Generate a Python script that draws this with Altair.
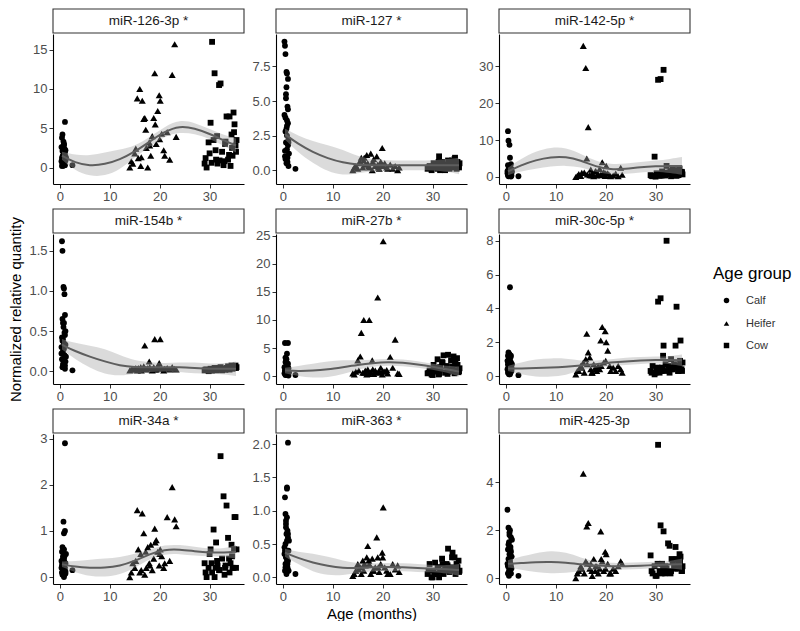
import altair as alt
import pandas as pd

# ---- ages (months) of the sampled animals, shared by all miRNAs ----
calf_age = [0.3, 0.4, 0.4, 0.5, 0.5, 0.5, 0.6, 0.6, 0.7, 0.7, 0.7, 0.8, 0.8, 0.8,
            0.9, 0.9, 1.0, 1.0, 1.0, 1.1, 1.1, 1.2, 0.6, 2.5,
            0.3, 0.5, 0.6, 0.7, 0.8, 0.9, 1.0, 1.1, 0.4, 0.8]
heifer_age = [14.0, 14.6, 15.0, 15.5, 15.7, 16.0, 16.2, 16.5, 16.8, 17.0, 17.3, 17.6,
              17.9, 18.2, 18.5, 18.8, 19.0, 19.3, 19.6, 19.9, 20.1, 20.4, 20.8, 21.5,
              22.0, 22.5, 23.0, 23.3,
              14.3, 15.2, 16.3, 17.2, 18.0, 19.1, 20.0, 21.0]
cow_age = [29.0, 29.4, 29.8, 30.2, 30.5, 30.8, 31.0, 31.3, 31.6, 31.9, 32.2, 32.5,
           32.8, 33.1, 33.4, 33.7, 34.0, 34.2, 34.4, 34.6, 34.8, 35.0, 35.2, 35.4,
           30.0, 31.5, 33.0, 34.5,
           29.2, 30.4, 31.2, 32.0, 33.2, 33.9, 34.9, 35.3]
curve_age = [0.4, 3, 6, 9, 12, 15, 18, 21, 24, 27, 30, 33, 35.3]

# ---- miR-126-3p ----
m126_calf = [0.8, 3.8, 1.2, 4.2, 0.5, 2.1, 1.5, 0.2, 2.8, 1.0, 0.4, 1.8, 3.0, 0.7, 2.4, 1.1, 5.8, 0.3, 1.6, 2.2, 0.9, 1.3, 0.6, 0.3,
             2.6, 1.4, 0.4, 3.3, 1.9, 0.7, 2.0, 1.0, 0.2, 2.9]
m126_heifer = [0.0, 0.5, 1.8, 8.8, 1.2, 10.0, 0.2, 8.5, 6.2, 6.3, 2.5, 0.0, 3.2, 1.5, 4.0, 6.3, 12.0, 3.0, 7.2, 9.2, 8.5, 4.3, 2.2, 4.5, 1.0, 11.8, 15.7, 3.9,
               0.8, 2.4, 1.3, 4.8, 2.8, 5.5, 3.6, 1.5]
m126_cow = [0.5, 0.0, 3.2, 5.7, 16.0, 3.5, 12.0, 1.0, 0.5, 10.5, 10.7, 2.0, 0.3, 3.0, 6.5, 1.0, 6.5, 0.2, 4.2, 1.5, 7.0, 5.5, 2.8, 3.5, 1.8, 4.0, 0.8, 2.5,
            1.2, 0.6, 2.2, 0.9, 3.3, 1.6, 4.5, 2.0]
m126_fit = [1.5, 0.6, 0.2, 0.4, 1.0, 2.0, 3.3, 4.6, 5.3, 5.0, 4.3, 3.4, 2.8]
m126_lo = [1.0, -0.4, -1.1, -1.1, -0.3, 1.3, 2.7, 4.0, 4.5, 4.3, 3.7, 2.7, 1.9]
m126_hi = [2.0, 1.6, 1.5, 1.9, 2.3, 2.7, 3.9, 5.2, 6.1, 5.7, 4.9, 4.1, 3.7]

# ---- miR-127 ----
m127_calf = [9.3, 1.0, 9.0, 3.8, 0.8, 8.4, 2.0, 5.2, 0.5, 7.1, 3.0, 1.5, 7.0, 2.5, 4.6, 0.9, 6.6, 1.8, 3.4, 0.3, 2.2, 1.2, 5.5, 0.1,
             4.0, 2.8, 1.0, 6.0, 3.2, 0.6, 4.4, 2.0, 1.4, 3.6]
m127_heifer = [0.0, 0.3, 0.1, 0.6, 0.9, 0.2, 0.7, 0.4, 1.1, 0.5, 0.2, 1.2, 0.0, 0.8, 0.3, 1.0, 0.4, 0.1, 0.6, 1.6, 0.3, 0.5, 0.2, 0.4, 0.1, 0.3, 0.0, 0.2,
               0.2, 0.5, 0.9, 0.3, 0.6, 0.2, 0.4, 0.1]
m127_cow = [0.1, 0.3, 0.0, 0.5, 0.2, 0.4, 0.1, 1.0, 0.3, 0.6, 0.2, 0.0, 0.4, 0.7, 0.1, 0.3, 0.5, 0.2, 0.8, 0.4, 0.1, 0.6, 0.3, 0.5, 0.2, 0.0, 0.4, 0.9,
            0.2, 0.4, 0.6, 0.1, 0.3, 0.7, 0.5, 0.2]
m127_fit = [2.6, 1.9, 1.3, 0.85, 0.55, 0.4, 0.35, 0.35, 0.35, 0.35, 0.35, 0.35, 0.35]
m127_lo = [2.2, 1.3, 0.5, -0.1, -0.4, -0.2, -0.1, 0.0, 0.0, 0.0, 0.0, -0.1, -0.3]
m127_hi = [3.0, 2.5, 2.1, 1.8, 1.5, 1.0, 0.8, 0.7, 0.7, 0.7, 0.7, 0.8, 0.9]

# ---- miR-142-5p ----
m142_calf = [1.0, 12.4, 0.5, 2.0, 9.8, 0.2, 1.5, 3.0, 0.8, 8.7, 1.2, 0.3, 2.5, 5.2, 0.6, 1.8, 3.5, 0.1, 1.0, 2.2, 0.4, 1.4, 0.7, 0.2,
             1.6, 0.9, 2.8, 0.4, 1.2, 2.0, 0.6, 1.5, 3.2, 0.3]
m142_heifer = [0.0, 0.8, 0.3, 35.5, 1.2, 29.5, 5.0, 13.5, 0.5, 2.0, 1.0, 0.2, 1.5, 0.4, 0.8, 2.2, 0.6, 4.0, 1.3, 0.3, 3.0, 1.0, 0.5, 0.4, 0.9, 0.2, 2.5, 0.6,
               0.3, 1.1, 0.7, 0.4, 1.6, 0.5, 1.0, 0.2]
m142_cow = [0.5, 0.2, 5.5, 1.0, 26.3, 0.3, 26.5, 1.5, 29.0, 0.4, 3.0, 0.8, 1.2, 0.2, 2.0, 0.6, 1.1, 0.3, 1.8, 0.5, 2.3, 0.9, 1.4, 0.7, 0.1, 0.5, 1.6, 1.0,
            0.3, 0.8, 0.4, 1.2, 0.6, 1.8, 0.9, 1.3]
m142_fit = [1.5, 3.2, 4.6, 5.4, 5.5, 4.5, 2.8, 2.0, 2.2, 2.7, 2.9, 3.0, 3.0]
m142_lo = [0.5, 1.5, 2.2, 2.9, 3.1, 2.7, 1.3, 0.6, 0.8, 1.3, 1.4, 1.1, 0.6]
m142_hi = [2.5, 4.9, 7.0, 8.0, 8.0, 6.3, 4.3, 3.4, 3.6, 4.1, 4.4, 4.9, 5.4]

# ---- miR-154b ----
m154_calf = [0.30, 1.62, 0.15, 0.65, 1.50, 0.05, 0.40, 0.25, 1.05, 0.55, 0.10, 1.03, 0.35, 0.60, 0.20, 0.96, 0.70, 0.03, 0.45, 0.50, 0.12, 0.18, 0.08, 0.01,
             0.22, 0.38, 0.60, 0.14, 0.28, 0.48, 0.07, 0.33, 0.42, 0.20]
m154_heifer = [0.01, 0.02, 0.03, 0.01, 0.04, 0.02, 0.05, 0.03, 0.06, 0.32, 0.02, 0.04, 0.12, 0.03, 0.01, 0.05, 0.40, 0.02, 0.06, 0.10, 0.40, 0.03, 0.01, 0.04, 0.02, 0.05, 0.03, 0.02,
               0.02, 0.04, 0.01, 0.03, 0.05, 0.02, 0.04, 0.03]
m154_cow = [0.01, 0.02, 0.0, 0.03, 0.01, 0.02, 0.04, 0.01, 0.03, 0.02, 0.05, 0.01, 0.03, 0.02, 0.04, 0.06, 0.02, 0.05, 0.07, 0.03, 0.06, 0.04, 0.07, 0.05, 0.01, 0.02, 0.03, 0.06,
            0.02, 0.01, 0.03, 0.04, 0.02, 0.05, 0.06, 0.04]
m154_fit = [0.33, 0.25, 0.18, 0.12, 0.07, 0.05, 0.05, 0.05, 0.05, 0.04, 0.03, 0.03, 0.03]
m154_lo = [0.27, 0.15, 0.04, -0.04, -0.06, -0.03, -0.01, 0.0, -0.01, -0.03, -0.03, -0.04, -0.06]
m154_hi = [0.40, 0.35, 0.32, 0.28, 0.20, 0.13, 0.11, 0.10, 0.11, 0.11, 0.09, 0.10, 0.12]

# ---- miR-27b ----
m27_calf = [0.5, 5.9, 1.0, 3.3, 0.2, 2.5, 1.5, 0.8, 3.0, 0.3, 2.0, 1.2, 0.6, 4.0, 1.8, 0.4, 5.9, 0.9, 2.2, 0.1, 1.4, 0.7, 1.1, 0.2,
            1.6, 0.3, 2.6, 0.5, 1.0, 0.2, 1.3, 0.6, 0.9, 0.4]
m27_heifer = [0.5, 0.8, 2.8, 3.5, 7.7, 0.6, 10.0, 1.0, 0.3, 1.2, 10.0, 0.7, 2.8, 0.4, 1.0, 0.6, 14.0, 0.9, 1.5, 0.3, 24.0, 0.8, 1.1, 3.4, 1.5, 6.5, 0.5, 0.4,
              0.3, 1.0, 0.6, 0.4, 1.2, 0.7, 0.9, 0.5]
m27_cow = [0.5, 1.0, 0.3, 2.0, 0.8, 1.5, 3.0, 0.4, 1.2, 2.5, 3.7, 0.6, 1.8, 3.8, 0.9, 2.8, 1.3, 3.5, 0.5, 2.2, 1.0, 2.0, 0.7, 1.4, 0.2, 1.6, 0.4, 2.6,
           0.6, 1.1, 0.3, 2.4, 0.8, 1.7, 3.2, 0.9]
m27_fit = [1.0, 0.9, 0.95, 1.2, 1.6, 2.0, 2.3, 2.5, 2.4, 2.1, 1.7, 1.2, 0.8]
m27_lo = [0.5, 0.0, -0.3, -0.2, 0.3, 1.2, 1.7, 1.9, 1.8, 1.5, 1.2, 0.6, -0.1]
m27_hi = [1.5, 1.8, 2.2, 2.6, 2.9, 2.8, 2.9, 3.1, 3.0, 2.7, 2.2, 1.8, 1.7]

# ---- miR-30c-5p ----
m30_calf = [0.4, 1.2, 0.2, 1.4, 0.6, 0.8, 0.1, 1.0, 0.5, 1.3, 0.3, 5.25, 0.7, 0.9, 0.2, 1.1, 0.4, 0.6, 0.8, 0.3, 0.5, 0.7, 0.2, 0.05,
            0.9, 0.3, 1.1, 0.6, 0.2, 0.5, 1.2, 0.4, 0.7, 0.1]
m30_heifer = [0.1, 0.3, 0.6, 0.8, 0.2, 1.0, 2.5, 1.4, 1.1, 0.4, 0.2, 0.7, 0.5, 0.3, 0.6, 0.4, 2.1, 2.9, 0.8, 2.65, 2.0, 1.5, 0.6, 0.5, 0.3, 0.6, 0.4, 0.2,
              0.3, 0.5, 0.7, 0.2, 0.4, 0.6, 0.9, 0.3]
m30_cow = [0.3, 0.6, 0.1, 0.4, 4.4, 0.2, 4.6, 0.5, 1.8, 0.3, 8.0, 0.6, 0.2, 1.0, 0.4, 0.7, 1.8, 4.1, 0.5, 0.3, 0.6, 2.1, 0.4, 0.8, 0.2, 1.2, 0.5, 0.3,
           0.2, 0.5, 0.3, 0.7, 0.4, 0.6, 0.9, 0.3]
m30_fit = [0.45, 0.45, 0.47, 0.5, 0.55, 0.62, 0.7, 0.8, 0.87, 0.92, 0.95, 0.95, 0.93]
m30_lo = [0.3, 0.1, -0.05, -0.05, 0.05, 0.35, 0.5, 0.6, 0.65, 0.72, 0.75, 0.72, 0.58]
m30_hi = [0.6, 0.8, 1.0, 1.05, 1.05, 0.9, 0.9, 1.0, 1.1, 1.12, 1.15, 1.18, 1.28]

# ---- miR-34a ----
m34_calf = [0.2, 0.55, 0.1, 0.65, 0.3, 0.05, 0.4, 0.15, 1.2, 0.25, 0.6, 0.0, 0.35, 0.95, 0.1, 0.45, 2.9, 1.0, 0.2, 0.3, 0.08, 0.5, 0.15, 0.15,
            0.35, 0.1, 0.45, 0.2, 0.6, 0.05, 0.3, 0.12, 0.25, 0.4]
m34_heifer = [0.0, 0.3, 0.2, 1.45, 0.6, 0.1, 0.5, 1.38, 0.95, 0.05, 0.2, 0.65, 0.3, 0.7, 0.15, 0.4, 1.05, 0.8, 0.55, 0.25, 0.6, 0.45, 0.2, 1.3, 0.35, 1.95, 1.25, 1.1,
              0.1, 0.35, 0.15, 0.55, 0.25, 0.75, 0.5, 0.3]
m34_cow = [0.3, 0.0, 0.2, 0.6, 0.1, 1.03, 0.0, 0.75, 0.25, 0.15, 2.62, 0.4, 1.75, 0.2, 1.55, 0.85, 0.1, 0.3, 0.7, 0.2, 0.2, 1.3, 1.3, 0.6, 0.5, 0.35, 0.05, 0.45,
           0.1, 0.3, 0.2, 0.15, 0.25, 0.4, 0.6, 0.2]
m34_fit = [0.28, 0.22, 0.2, 0.2, 0.24, 0.35, 0.5, 0.6, 0.6, 0.56, 0.53, 0.53, 0.55]
m34_lo = [0.22, 0.1, 0.02, 0.0, 0.05, 0.2, 0.4, 0.5, 0.5, 0.46, 0.45, 0.44, 0.4]
m34_hi = [0.34, 0.34, 0.38, 0.4, 0.43, 0.5, 0.6, 0.7, 0.7, 0.66, 0.61, 0.62, 0.7]

# ---- miR-363 ----
m363_calf = [0.35, 1.2, 0.1, 0.95, 0.5, 0.2, 0.8, 0.3, 0.3, 0.65, 0.05, 1.33, 1.35, 0.9, 0.15, 0.7, 2.02, 0.25, 0.6, 0.4, 0.1, 0.55, 0.85, 0.05,
             0.45, 0.15, 0.75, 0.3, 0.55, 0.2, 0.65, 0.1, 0.4, 0.25]
m363_heifer = [0.02, 0.1, 0.2, 0.15, 0.05, 0.25, 0.1, 0.18, 0.3, 0.47, 0.2, 0.05, 0.28, 0.1, 0.15, 0.6, 0.3, 0.08, 0.2, 0.37, 1.05, 0.15, 0.1, 0.05, 0.2, 0.12, 0.18, 0.08,
               0.05, 0.12, 0.2, 0.25, 0.1, 0.15, 0.3, 0.05]
m363_cow = [0.05, 0.2, 0.0, 0.1, 0.22, 0.05, 0.15, 0.0, 0.1, 0.28, 0.05, 0.12, 0.2, 0.43, 0.08, 0.15, 0.37, 0.1, 0.3, 0.05, 0.2, 0.15, 0.25, 0.1, 0.0, 0.08, 0.18, 0.12,
            0.1, 0.05, 0.15, 0.2, 0.1, 0.3, 0.15, 0.08]
m363_fit = [0.37, 0.29, 0.22, 0.17, 0.14, 0.14, 0.15, 0.16, 0.15, 0.14, 0.13, 0.12, 0.11]
m363_lo = [0.31, 0.2, 0.08, 0.03, 0.03, 0.07, 0.09, 0.1, 0.09, 0.08, 0.08, 0.06, 0.02]
m363_hi = [0.43, 0.38, 0.36, 0.31, 0.25, 0.21, 0.21, 0.22, 0.21, 0.2, 0.18, 0.18, 0.2]

# ---- miR-425-3p ----
m425_calf = [2.85, 0.5, 1.2, 0.2, 2.1, 0.8, 1.5, 0.1, 1.0, 1.9, 0.4, 0.7, 2.0, 0.3, 1.3, 0.6, 1.7, 0.2, 1.1, 0.9, 0.4, 1.6, 0.5, 0.1,
             0.6, 1.4, 0.3, 1.8, 0.8, 1.2, 0.5, 0.9, 0.2, 1.0]
m425_heifer = [0.0, 0.3, 0.5, 4.35, 0.2, 0.7, 2.15, 2.3, 0.4, 0.6, 0.1, 0.8, 0.3, 0.5, 0.2, 0.4, 1.95, 0.7, 0.3, 1.1, 1.0, 0.6, 0.2, 0.4, 0.3, 0.5, 0.7, 0.6,
               0.2, 0.4, 0.6, 0.3, 0.5, 0.8, 0.4, 0.2]
m425_cow = [0.95, 0.2, 0.5, 0.1, 5.55, 0.3, 2.2, 0.6, 1.95, 0.2, 0.4, 1.45, 1.35, 0.3, 0.7, 0.5, 1.3, 0.8, 0.4, 0.6, 1.0, 0.9, 0.3, 0.5, 0.1, 0.4, 0.2, 0.6,
            0.3, 0.6, 0.2, 0.5, 0.8, 0.4, 0.7, 0.3]
m425_fit = [0.6, 0.63, 0.67, 0.68, 0.65, 0.58, 0.52, 0.5, 0.5, 0.52, 0.55, 0.57, 0.58]
m425_lo = [0.45, 0.35, 0.25, 0.2, 0.22, 0.3, 0.37, 0.37, 0.36, 0.38, 0.42, 0.42, 0.35]
m425_hi = [0.75, 0.9, 1.05, 1.15, 1.08, 0.86, 0.68, 0.63, 0.64, 0.66, 0.68, 0.72, 0.82]

panel_titles = ["miR-126-3p *", "miR-127 *", "miR-142-5p *",
                "miR-154b *", "miR-27b *", "miR-30c-5p *",
                "miR-34a *", "miR-363 *", "miR-425-3p"]
y_domains = [[-2.1, 17.0], [-1.0, 9.85], [-1.9, 38.7],
             [-0.16, 1.71], [-1.4, 25.3], [-0.47, 8.4],
             [-0.15, 3.1], [-0.1, 2.15], [-0.24, 6.0]]
y_ticks = [[0, 5, 10, 15], [0, 2.5, 5, 7.5], [0, 10, 20, 30],
           [0, 0.5, 1.0, 1.5], [0, 5, 10, 15, 20, 25], [0, 2, 4, 6, 8],
           [0, 1, 2, 3], [0, 0.5, 1.0, 1.5, 2.0], [0, 2, 4]]
y_formats = ["d", ".1f", "d", ".1f", "d", "d", "d", ".1f", "d"]
x_ticks = [0, 10, 20, 30]
groups = ["Calf", "Heifer", "Cow"]
group_sizes = [34, 50, 34]

series = [
    (m126_calf, m126_heifer, m126_cow, m126_fit, m126_lo, m126_hi),
    (m127_calf, m127_heifer, m127_cow, m127_fit, m127_lo, m127_hi),
    (m142_calf, m142_heifer, m142_cow, m142_fit, m142_lo, m142_hi),
    (m154_calf, m154_heifer, m154_cow, m154_fit, m154_lo, m154_hi),
    (m27_calf, m27_heifer, m27_cow, m27_fit, m27_lo, m27_hi),
    (m30_calf, m30_heifer, m30_cow, m30_fit, m30_lo, m30_hi),
    (m34_calf, m34_heifer, m34_cow, m34_fit, m34_lo, m34_hi),
    (m363_calf, m363_heifer, m363_cow, m363_fit, m363_lo, m363_hi),
    (m425_calf, m425_heifer, m425_cow, m425_fit, m425_lo, m425_hi),
]

W = 191
H = 150
FONT = "Liberation Sans"

legend = alt.Legend(title="Age group", orient="none", legendX=660, legendY=232,
                    symbolFillColor="black", symbolStrokeColor="black",
                    symbolSize=30, symbolOffset=8, labelOffset=14,
                    rowPadding=10, titlePadding=12, padding=0,
                    titleFontSize=17, titleFontWeight="normal",
                    titleColor="black", titleFont=FONT,
                    labelFontSize=11, labelColor="#333333", labelFont=FONT)
shape_scale = alt.Scale(domain=groups, range=["circle", "triangle-up", "square"])


def make_panel(i):
    calf, heifer, cow, fit, lo, hi = series[i]
    pts = pd.DataFrame({
        "age": calf_age + heifer_age + cow_age,
        "value": calf + heifer + cow,
        "group": ["Calf"] * len(calf) + ["Heifer"] * len(heifer) + ["Cow"] * len(cow),
    })
    cur = pd.DataFrame({"age": curve_age, "fit": fit, "lo": lo, "hi": hi})
    lab = pd.DataFrame({"label": [panel_titles[i]]})

    xs = alt.Scale(domain=[-1.4, 36.9], nice=False, zero=False)
    ys = alt.Scale(domain=y_domains[i], nice=False, zero=False)
    xtitle = "Age (months)" if i == 7 else None
    ytitle = "Normalized relative quantity" if i == 3 else None
    xa = alt.Axis(values=x_ticks, title=xtitle, format="d", titlePadding=3)
    ya = alt.Axis(values=y_ticks[i], title=ytitle, format=y_formats[i], titlePadding=5)

    layers = []
    for g, sz in zip(groups, group_sizes):
        layers.append(
            alt.Chart(pts).transform_filter(alt.datum.group == g)
            .mark_point(filled=True, opacity=1, size=sz, color="black")
            .encode(
                x=alt.X("age:Q", scale=xs, axis=xa),
                y=alt.Y("value:Q", scale=ys, axis=ya),
                shape=alt.Shape("group:N", scale=shape_scale, legend=legend),
            )
        )
    band = alt.Chart(cur).mark_area(color="#A6A6A6", opacity=0.4, interpolate="basis").encode(
        x=alt.X("age:Q", scale=xs, axis=xa),
        y=alt.Y("lo:Q", scale=ys, axis=ya),
        y2="hi:Q",
    )
    line = alt.Chart(cur).mark_line(color="#5E5E5E", strokeWidth=2, interpolate="basis").encode(
        x=alt.X("age:Q", scale=xs, axis=xa),
        y=alt.Y("fit:Q", scale=ys, axis=ya),
    )
    strip = alt.Chart(lab).mark_rect(fill="white", stroke="#333333", strokeWidth=1.1).encode(
        x=alt.value(0), x2=alt.value(W), y=alt.value(-25), y2=alt.value(-1)
    )
    strip_text = alt.Chart(lab).mark_text(fontSize=13.5, color="#1A1A1A", font=FONT).encode(
        x=alt.value(W / 2), y=alt.value(-13), text="label:N"
    )
    return alt.layer(*layers, band, line, strip, strip_text).properties(width=W, height=H)


panels = [make_panel(i) for i in range(9)]

chart = alt.concat(*panels, columns=3, spacing={"row": 50, "column": 32}, bounds="flush").resolve_scale(
    x="independent", y="independent", shape="shared"
).properties(
    padding={"left": 0, "top": 0, "right": 0, "bottom": 0},
    background="white",
).configure_view(strokeWidth=0).configure_axis(
    grid=False, domainColor="black", domainWidth=1.1, tickColor="#333333",
    tickSize=4, tickWidth=1, labelColor="#4D4D4D", labelFontSize=13,
    labelFont=FONT, labelPadding=2, titleFont=FONT, titleFontSize=15,
    titleFontWeight="normal", titleColor="black",
)

chart.save("out.html", embed_options={"renderer": "svg", "actions": False})
